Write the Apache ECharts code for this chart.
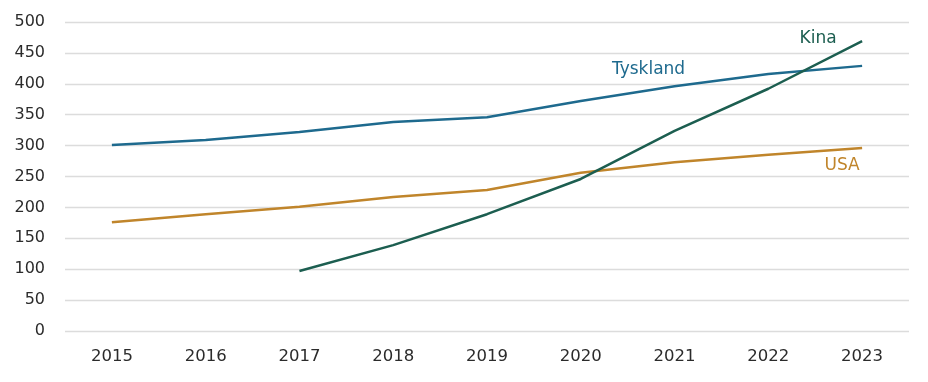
<!DOCTYPE html>
<html><head><meta charset="utf-8">
<script src="https://cdn.jsdelivr.net/npm/echarts@6/dist/echarts.min.js"></script>
<style>html,body{margin:0;padding:0;background:#fff}#c{width:928px;height:382px}</style>
</head><body><div id="c"></div>
<script>
const years = ['2015','2016','2017','2018','2019','2020','2021','2022','2023'];
const tyskland = [301, 309, 322, 338, 346, 372, 396, 416, 429];
const usa = [176, 189, 201, 217, 228, 256, 273, 285, 296];
const kina = [null, null, 97, 139, 189, 246, 324, 392, 469];

const FONT = 'DejaVu Sans';
function withLabel(arr, idx, text, color, offset) {
  return arr.map((v, i) => i === idx ? {
    value: v,
    label: { show: true, formatter: text, position: 'inside', offset: offset,
      color: color, fontSize: 17, fontFamily: FONT }
  } : v);
}
const chart = echarts.init(document.getElementById('c'), null, {renderer: 'canvas'});
const common = { type: 'line', symbol: 'circle', symbolSize: 0.1, showSymbol: true,
  itemStyle: { color: 'rgba(0,0,0,0)' }, silent: true, animation: false };
chart.setOption({
  animation: false,
  grid: { left: 65, right: 19, top: 22, bottom: 51 },
  xAxis: { type: 'category', data: years, boundaryGap: true,
    axisLine: { show: false }, axisTick: { show: false },
    axisLabel: { color: '#2b2b2b', fontSize: 16.5, fontFamily: FONT, margin: 17 } },
  yAxis: { type: 'value', min: 0, max: 500, interval: 50,
    axisLine: { show: false }, axisTick: { show: false },
    axisLabel: { color: '#2b2b2b', fontSize: 16, fontFamily: FONT, margin: 20 },
    splitLine: { lineStyle: { color: '#dcdcdc', width: 1.3 } } },
  series: [
    Object.assign({}, common, { name: 'Tyskland', lineStyle: { width: 2.5, color: '#1e6a8e' },
      data: withLabel(tyskland, 6, 'Tyskland', '#1e6a8e', [-26, -17]) }),
    Object.assign({}, common, { name: 'USA', lineStyle: { width: 2.5, color: '#c0852b' },
      data: withLabel(usa, 8, 'USA', '#c0852b', [-20, 18]) }),
    Object.assign({}, common, { name: 'Kina', lineStyle: { width: 2.5, color: '#1c5e50' },
      data: withLabel(kina, 8, 'Kina', '#1c5e50', [-44, -3]) })
  ]
});
</script></body></html>
